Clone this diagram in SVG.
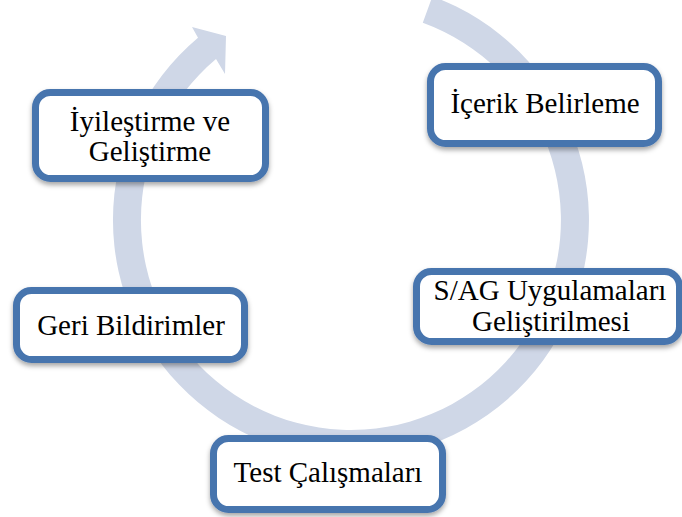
<svg xmlns="http://www.w3.org/2000/svg" width="682" height="517" viewBox="0 0 682 517">
<style>
.box{fill:#ffffff;stroke:#4774AE;stroke-width:7;filter:url(#sh)}
.lbl{font-family:"Liberation Serif","Times New Roman",serif;font-size:29px;fill:#000;text-anchor:middle}
.two{font-size:28px}
</style>
<defs>
<filter id="sh" x="-10%" y="-20%" width="120%" height="150%">
<feDropShadow dx="0" dy="3" stdDeviation="2.5" flood-color="#000" flood-opacity="0.35"/>
</filter>
</defs>
<rect width="682" height="517" fill="#ffffff"/>
<g id="connectors">
<path d="M432.4,-3.6 A238,238 0 1 1 198,37.7 L192,27 L226,36 L225,74 L216,59.1 A210,210 0 1 0 422.8,22.7 Z" fill="#CFD7E7"/>
</g>
<g id="node-iyilestirme">
<rect class="box" x="35.5" y="92.5" width="230" height="86" rx="15"/>
<text class="lbl" x="150" y="131">İyileştirme ve</text>
<text class="lbl" x="150" y="161">Geliştirme</text>
</g>
<g id="node-icerik">
<rect class="box" x="430.5" y="66.5" width="228" height="77" rx="15"/>
<text class="lbl" x="545" y="113">İçerik Belirleme</text>
</g>
<g id="node-sag">
<rect class="box" x="416.5" y="271.5" width="263" height="70" rx="15"/>
<text class="lbl" x="550" y="300">S/AG Uygulamaları</text>
<text class="lbl" x="551" y="331">Geliştirilmesi</text>
</g>
<g id="node-geri">
<rect class="box" x="16.5" y="290.5" width="228" height="69" rx="15"/>
<text class="lbl" x="131" y="335">Geri Bildirimler</text>
</g>
<g id="node-test">
<rect class="box" x="213.5" y="438.5" width="229" height="71" rx="15"/>
<text class="lbl" x="328" y="482">Test Çalışmaları</text>
</g>
</svg>
